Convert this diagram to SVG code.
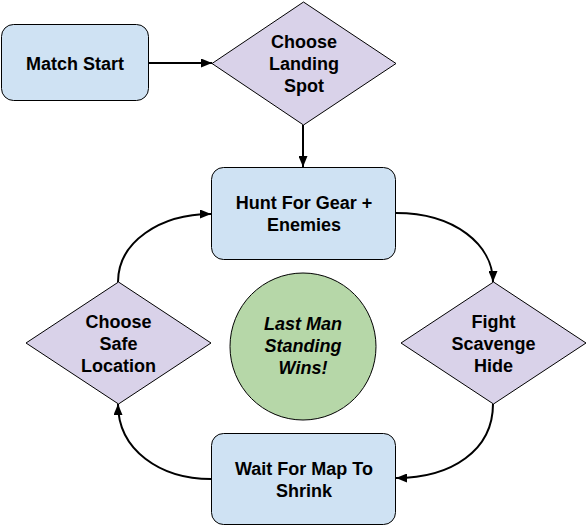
<svg xmlns="http://www.w3.org/2000/svg" width="587" height="526" viewBox="0 0 587 526">
<defs>
<marker id="arr" markerUnits="userSpaceOnUse" markerWidth="11" markerHeight="9" refX="11" refY="4.5" orient="auto">
<path d="M0,0 L11,4.5 L0,9 z" fill="#000"/>
</marker>
<style>
.box{fill:#cfe2f3;stroke:#000;stroke-width:1}
.dia{fill:#d9d2e9;stroke:#000;stroke-width:1}
.circ{fill:#b6d7a8;stroke:#000;stroke-width:1}
.t{font-family:"Liberation Sans",Arial,sans-serif;font-size:18px;font-weight:bold;fill:#000;text-anchor:middle}
.it{font-style:italic}
.c{fill:none;stroke:#000;stroke-width:2;marker-end:url(#arr)}
</style>
</defs>
<rect width="587" height="526" fill="#fff"/>
<g id="connectors">
<path class="c" d="M149,63 L212,63"/>
<path class="c" d="M303,125 L303,167"/>
<path class="c" d="M396,213 C455,213 493,245 493,282"/>
<path class="c" d="M493,404 C493,450 452,478 396,478"/>
<path class="c" d="M211,479 C160,479 118,450 118,404"/>
<path class="c" d="M118,282 C118,242 160,214 211,214"/>
</g>
<g id="match-start">
<rect class="box" x="1.5" y="24.5" width="147" height="76" rx="12"/>
<text class="t" x="75" y="70">Match Start</text>
</g>
<g id="choose-landing">
<polygon class="dia" points="303.5,2 396,63.5 303.5,125 212,63.5"/>
<text class="t" x="304" y="48">Choose</text>
<text class="t" x="304" y="70">Landing</text>
<text class="t" x="304" y="92">Spot</text>
</g>
<g id="hunt">
<rect class="box" x="211.5" y="167.5" width="184" height="92" rx="12"/>
<text class="t" x="304" y="209">Hunt For Gear +</text>
<text class="t" x="304" y="231">Enemies</text>
</g>
<g id="choose-safe">
<polygon class="dia" points="118.5,282 211,343 118.5,404 26,343"/>
<text class="t" x="118.5" y="328">Choose</text>
<text class="t" x="118.5" y="350">Safe</text>
<text class="t" x="118.5" y="372">Location</text>
</g>
<g id="fight">
<polygon class="dia" points="493.5,282 586,343 493.5,404 401,343"/>
<text class="t" x="493.5" y="328">Fight</text>
<text class="t" x="493.5" y="350">Scavenge</text>
<text class="t" x="493.5" y="372">Hide</text>
</g>
<g id="last-man">
<ellipse class="circ" cx="303" cy="346.5" rx="73" ry="73.5"/>
<text class="t it" x="303" y="330">Last Man</text>
<text class="t it" x="303" y="352">Standing</text>
<text class="t it" x="303" y="374">Wins!</text>
</g>
<g id="wait">
<rect class="box" x="211.5" y="433.5" width="184" height="91" rx="12"/>
<text class="t" x="304" y="475">Wait For Map To</text>
<text class="t" x="304" y="497">Shrink</text>
</g>
</svg>
